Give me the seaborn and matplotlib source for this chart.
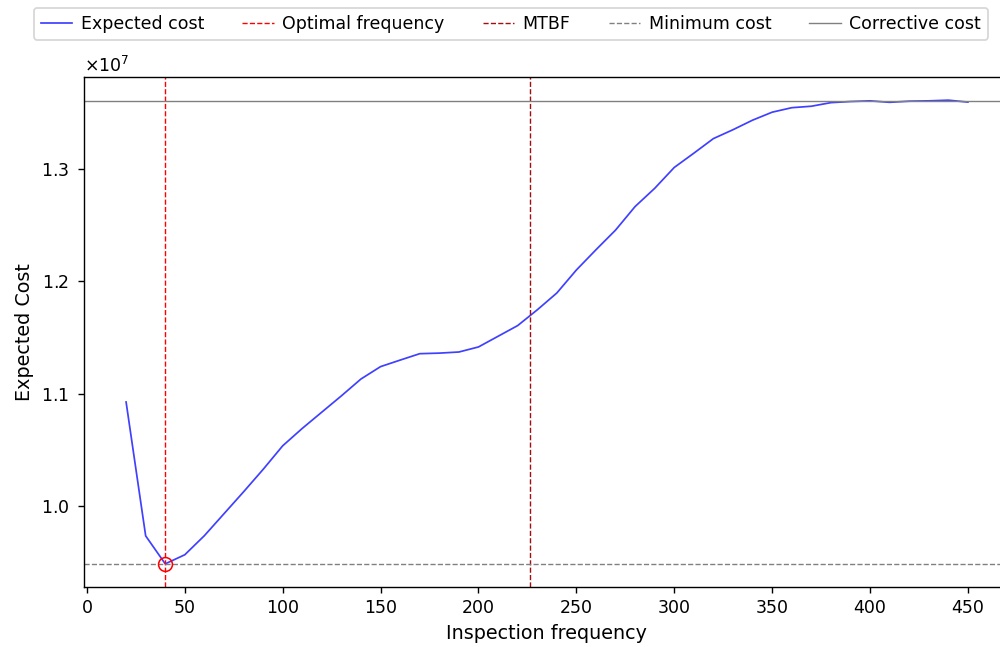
import matplotlib
matplotlib.use("Agg")
import matplotlib.pyplot as plt
import seaborn as sns
import numpy as np
import pandas as pd

frequency = list(range(20, 460, 10))
expected_cost = [
    1.0925e7, 9.733e6, 9.484e6, 9.565e6, 9.735e6, 9.93e6, 1.0125e7, 1.0325e7,
    1.0535e7, 1.0690e7, 1.0835e7, 1.0980e7, 1.1130e7, 1.1240e7, 1.1298e7,
    1.1355e7, 1.1360e7, 1.1370e7, 1.1415e7, 1.1510e7, 1.1605e7, 1.1745e7,
    1.1895e7, 1.2100e7, 1.2280e7, 1.2455e7, 1.2665e7, 1.2827e7, 1.3013e7,
    1.3140e7, 1.3270e7, 1.3349e7, 1.3434e7, 1.3505e7, 1.3545e7, 1.3558e7,
    1.3590e7, 1.3600e7, 1.3606e7, 1.3593e7, 1.3603e7, 1.3606e7, 1.3612e7,
    1.3595e7,
]
optimal_frequency = 40
mtbf = 226.3
minimum_cost = 9.484e6
corrective_cost = 1.3605e7

df = pd.DataFrame({"Inspection frequency": frequency, "Expected Cost": expected_cost})

fig = plt.figure(figsize=(8, 5.176), dpi=125)
ax = fig.add_axes([0.084, 0.0927, 0.926, 0.7883])

sns.lineplot(data=df, x="Inspection frequency", y="Expected Cost", ax=ax,
             color="blue", alpha=0.75, linewidth=1, label="Expected cost")
ax.axvline(optimal_frequency, color="red", linestyle="--", linewidth=0.8,
           label="Optimal frequency")
ax.axvline(mtbf, color="#a01010", linestyle="--", linewidth=0.8, label="MTBF")
ax.axhline(minimum_cost, color="gray", linestyle="--", linewidth=0.8,
           label="Minimum cost")
ax.axhline(corrective_cost, color="gray", linestyle="-", linewidth=0.8,
           label="Corrective cost")
ax.plot([optimal_frequency], [minimum_cost], marker="o", markersize=8,
        markerfacecolor="none", markeredgecolor="red", markeredgewidth=0.9,
        linestyle="none")

ax.set_xlabel("Inspection frequency", fontsize=11)
ax.set_ylabel("Expected Cost", fontsize=11)
ax.ticklabel_format(axis="y", style="sci", scilimits=(0, 0), useMathText=True)
ax.tick_params(labelsize=10)
ax.tick_params(axis="y", pad=5)
ax.yaxis.get_offset_text().set_fontsize(10)
ax.set_xticks(range(0, 500, 50))

handles, labels = ax.get_legend_handles_labels()
ax.legend_.remove()
fig.legend(handles, labels, loc="center", ncol=5, fontsize=10,
           columnspacing=2.2, handlelength=1.8, handletextpad=0.5,
           bbox_to_anchor=(0.511, 0.963), bbox_transform=fig.transFigure)

fig.savefig("out.png", dpi=125)
